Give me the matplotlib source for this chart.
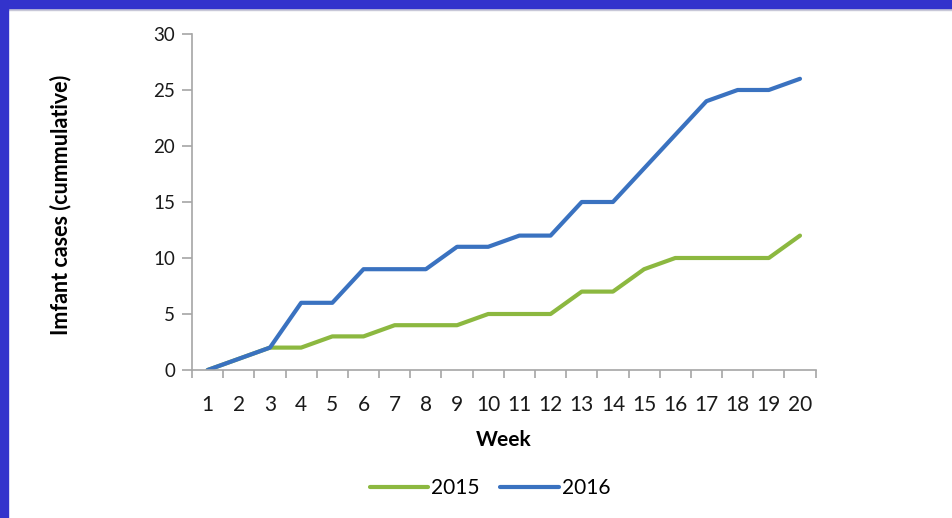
import numpy as np
import matplotlib.pyplot as plt
from matplotlib.patches import Rectangle

plt.rcParams['font.family'] = ['Lato', 'DejaVu Sans']

weeks = list(range(1, 21))
cases_2015 = [0, 1, 2, 2, 3, 3, 4, 4, 4, 5, 5, 5, 7, 7, 9, 10, 10, 10, 10, 12]
cases_2016 = [0, 1, 2, 6, 6, 9, 9, 9, 11, 11, 12, 12, 15, 15, 18, 21, 24, 25, 25, 26]

green = '#8cb840'
blue = '#3a72c0'
grey = '#a6a6a6'

fig = plt.figure(figsize=(9.52, 5.18), dpi=100)
ax = fig.add_axes([0.2017, 0.2857, 0.655, 0.6487])

x = np.arange(len(weeks))
ax.plot(x, cases_2015, color=green, linewidth=3, label='2015', solid_capstyle='round')
ax.plot(x, cases_2016, color=blue, linewidth=3, label='2016', solid_capstyle='round')

ax.set_xlim(-0.5, len(weeks) - 0.5)
ax.set_ylim(0, 30)
ax.set_yticks(range(0, 31, 5))
ax.set_xticks(x)
ax.set_xticklabels([str(w) for w in weeks])
ax.set_xticks(np.arange(-0.5, len(weeks), 1), minor=True)

for s in ['top', 'right']:
    ax.spines[s].set_visible(False)
for s in ['left', 'bottom']:
    ax.spines[s].set_color(grey)
    ax.spines[s].set_linewidth(1.2)

ax.tick_params(axis='x', which='major', length=0, pad=18, labelsize=15, colors='#1a1a1a')
ax.tick_params(axis='x', which='minor', length=6, direction='out', color=grey, width=1.2)
ax.tick_params(axis='y', length=7, direction='out', color=grey, width=1.2,
               labelsize=13.5, colors='#1a1a1a', pad=5)

ax.set_xlabel('Week', fontsize=15, fontweight='bold', labelpad=11)
ax.set_ylabel('Imfant cases (cummulative)', fontsize=15.5, fontweight='bold')
ax.yaxis.set_label_coords(-0.194, 0.49)

ax.legend(loc='center', bbox_to_anchor=(0.478, -0.351), ncol=2, frameon=False,
          fontsize=15, handlelength=2.8, handletextpad=0.15, columnspacing=1.0)

# frame around the slide
fig.patches.append(Rectangle((0, 1 - 8 / 518), 1, 8 / 518, transform=fig.transFigure,
                             color='#3333cc', zorder=10))
fig.patches.append(Rectangle((0, 1 - 10 / 518), 1, 2 / 518, transform=fig.transFigure,
                             color='#c8c8d8', zorder=9))
fig.patches.append(Rectangle((0, 0), 8 / 952, 1, transform=fig.transFigure,
                             color='#3333cc', zorder=10))

fig.savefig('out.png', dpi=100)
